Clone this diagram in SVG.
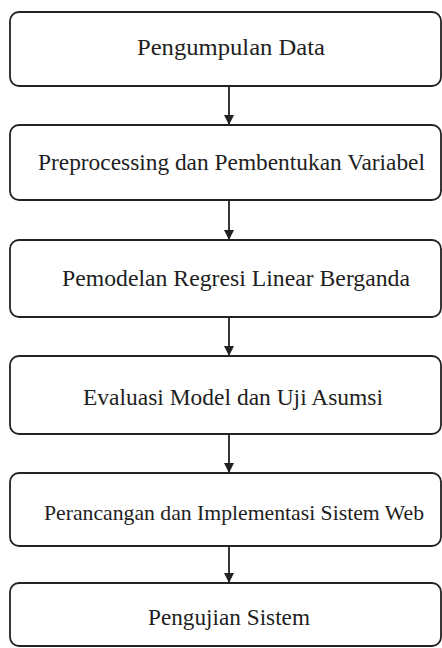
<svg xmlns="http://www.w3.org/2000/svg" width="442" height="648" viewBox="0 0 442 648">
<style>
.box{fill:#fff;stroke:#222;stroke-width:1.8}
.lbl{font-family:'Liberation Serif','Times New Roman',serif;font-size:23px;fill:#1e1e1e}
.conn{stroke:#222;stroke-width:1.8;fill:none}
</style>
<defs>
<marker id="ah" viewBox="0 0 10 10" refX="10" refY="5" markerWidth="10" markerHeight="10" markerUnits="userSpaceOnUse" orient="auto">
<path d="M0,0 L10,5 L0,10 Z" fill="#222"/>
</marker>
</defs>
<rect width="442" height="648" fill="#fff"/>
<g id="n1"><rect class="box" x="10" y="12" width="431" height="74" rx="9"/><text class="lbl" x="137" y="55" textLength="188" lengthAdjust="spacingAndGlyphs">Pengumpulan Data</text></g>
<g id="n2"><rect class="box" x="10" y="125" width="431" height="75" rx="9"/><text class="lbl" x="38" y="170" textLength="387" lengthAdjust="spacingAndGlyphs">Preprocessing dan Pembentukan Variabel</text></g>
<g id="n3"><rect class="box" x="10" y="240" width="431" height="77" rx="9"/><text class="lbl" x="62" y="286" textLength="348" lengthAdjust="spacingAndGlyphs">Pemodelan Regresi Linear Berganda</text></g>
<g id="n4"><rect class="box" x="10" y="356" width="431" height="78" rx="9"/><text class="lbl" x="83" y="405" textLength="300" lengthAdjust="spacingAndGlyphs">Evaluasi Model dan Uji Asumsi</text></g>
<g id="n5"><rect class="box" x="10" y="473" width="431" height="73" rx="9"/><text class="lbl" style="font-size:21.5px" x="44" y="520" textLength="380" lengthAdjust="spacingAndGlyphs">Perancangan dan Implementasi Sistem Web</text></g>
<g id="n6"><rect class="box" x="10" y="583" width="431" height="63" rx="9"/><text class="lbl" x="148" y="625" textLength="162" lengthAdjust="spacingAndGlyphs">Pengujian Sistem</text></g>
<g id="connectors">
<line class="conn" x1="229" y1="86" x2="229" y2="125" marker-end="url(#ah)"/>
<line class="conn" x1="229" y1="200" x2="229" y2="240" marker-end="url(#ah)"/>
<line class="conn" x1="229" y1="317" x2="229" y2="356" marker-end="url(#ah)"/>
<line class="conn" x1="229" y1="434" x2="229" y2="473" marker-end="url(#ah)"/>
<line class="conn" x1="229" y1="546" x2="229" y2="583" marker-end="url(#ah)"/>
</g>
</svg>
